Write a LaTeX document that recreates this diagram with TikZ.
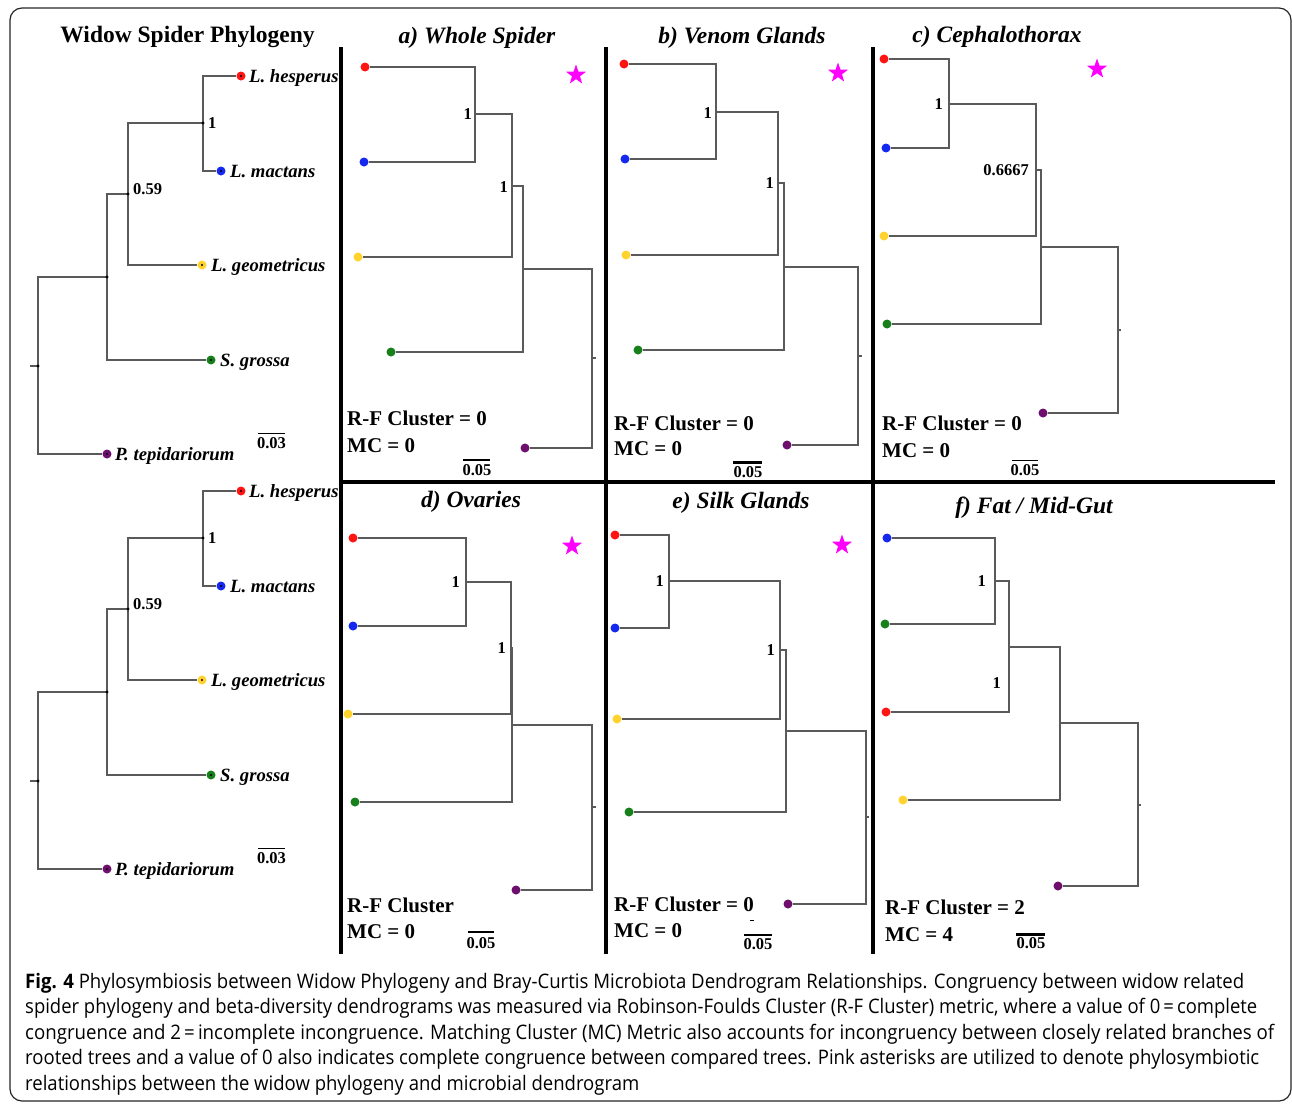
\documentclass[tikz,border=0pt]{standalone}
\usepackage{fontspec}
\usepackage{graphicx}
\setmainfont{Liberation Serif}
\newfontfamily\capfont{Open Sans}
\usetikzlibrary{shapes.geometric}
\definecolor{tgray}{HTML}{5A5A5A}
\definecolor{lred}{HTML}{FF1414}
\definecolor{lblue}{HTML}{1428F0}
\definecolor{lyellow}{HTML}{FFD22E}
\definecolor{lgreen}{HTML}{17801A}
\definecolor{lpurple}{HTML}{6E0F6E}
\definecolor{starpink}{HTML}{FF00FF}
\newcommand\myfs[1]{\fontsize{#1}{#1}\selectfont}
\newlength\capw
\tikzset{
  branch/.style={draw=tgray, line width=1.3pt},
  leafdot/.style={circle, inner sep=0pt, minimum size=9pt, draw=none},
  ttl/.style={font=\myfs{23.5}\bfseries\itshape, anchor=base, inner sep=0pt},
  sp/.style={font=\myfs{18.7}\bfseries\itshape, anchor=base west, inner sep=0pt},
  blab/.style={font=\myfs{16.5}\bfseries, inner sep=0pt},
  stat/.style={font=\myfs{21}\bfseries, anchor=base west, inner sep=0pt},
  sbar/.style={draw=black, line width=#1},
  sepline/.style={draw=black, line width=4pt},
  pstar/.style={star, star points=5, star point ratio=2.5, fill=starpink, draw=none, inner sep=0pt, minimum size=21pt},
  capline/.style={anchor=base west, inner sep=0pt, font=\capfont\myfs{20}}
}
\newcommand\phylo[1]{%
  \coordinate (#1tk) at (30,366);
  \coordinate (#1R) at (38,366);
  \coordinate (#1A) at (107,277);
  \coordinate (#1B) at (128,194);
  \coordinate (#1C) at (203,123);
  \node[leafdot, fill=lred] (#1h) at (241,76) {};
  \node[leafdot, fill=lblue] (#1m) at (221,171) {};
  \node[leafdot, fill=lyellow] (#1g) at (202,265) {};
  \node[leafdot, fill=lgreen] (#1s) at (211,360) {};
  \node[leafdot, fill=lpurple] (#1p) at (107,454) {};
  \draw[branch] (#1tk) -- (#1R);
  \draw[branch] (#1R) |- (#1A);
  \draw[branch] (#1R) |- (#1p);
  \draw[branch] (#1A) |- (#1B);
  \draw[branch] (#1A) |- (#1s);
  \draw[branch] (#1B) |- (#1C);
  \draw[branch] (#1B) |- (#1g);
  \draw[branch] (#1C) |- (#1h);
  \draw[branch] (#1C) |- (#1m);
  \foreach \n in {R,A,B,C}{\fill[black] (#1\n) circle[radius=1.6pt];}
  \foreach \n in {h,m,g,s,p}{\fill[black] (#1\n.center) circle[radius=1.2pt];}
  \node[blab, anchor=west] (#1l1) at (208,123) {1};
  \node[blab, anchor=west] (#1l2) at (133,189) {0.59};
  \node[sp] (#1th) at (249,82) {L. hesperus};
  \node[sp] (#1tm) at (230,177) {L. mactans};
  \node[sp] (#1tg) at (211,271) {L. geometricus};
  \node[sp] (#1ts) at (220,366) {S. grossa};
  \node[sp] (#1tp) at (115,460) {P. tepidariorum};
  \coordinate (#1sa) at (258,433);
  \coordinate (#1sb) at (285,433);
  \draw[sbar=0.9pt] (#1sa) -- (#1sb);
  \node[blab, anchor=base] (#1st) at (271.5,448) {0.03};
}
\begin{document}
\settowidth\capw{\capfont\myfs{20}rooted trees and a value of 0 also indicates complete congruence between compared trees. Pink asterisks are utilized to denote phylosymbiotic}%
\pgfmathsetmacro\capr{1234/\capw}%
\begin{tikzpicture}[x=1pt,y=-1pt]
\fill[white] (0,0) rectangle (1292,1103);
\useasboundingbox (0,0) rectangle (1292,1103);
% frame
\draw[line width=1.2pt, rounded corners=12pt, black!85] (10,8) rectangle (1291,1101);
% separators
\draw[sepline] (341,47) -- (341,954);
\draw[sepline] (606,47) -- (606,954);
\draw[sepline] (873,47) -- (873,954);
\draw[sepline] (341,482) -- (1275,482);
% phylogenies
\node[font=\myfs{23.5}\bfseries, anchor=base, inner sep=0pt] (ttl0) at (187.5,42) {Widow Spider Phylogeny};
\phylo{pu}
\begin{scope}[shift={(0,415)}]
\phylo{pl}
\end{scope}
% ---------- panel a
\node[ttl] (ta) at (477,43) {a) Whole Spider};
\node[leafdot, fill=lred] (aR) at (365,67) {};
\node[leafdot, fill=lblue] (aB) at (364,162) {};
\node[leafdot, fill=lyellow] (aY) at (358,257) {};
\node[leafdot, fill=lgreen] (aG) at (391,352) {};
\node[leafdot, fill=lpurple] (aP) at (525,448) {};
\coordinate (aN1) at (475,114);
\coordinate (aN2) at (512,186);
\coordinate (aN3) at (523,269);
\coordinate (aRt) at (592,358);
\coordinate (aTk) at (596,358);
\draw[branch] (aR) -| (aN1); \draw[branch] (aB) -| (aN1);
\draw[branch] (aN1) -| (aN2); \draw[branch] (aY) -| (aN2);
\draw[branch] (aN2) -| (aN3); \draw[branch] (aG) -| (aN3);
\draw[branch] (aN3) -| (aRt); \draw[branch] (aP) -| (aRt);
\draw[branch] (aRt) -- (aTk);
\node[blab, anchor=east] (aL1) at (472,114) {1};
\node[blab, anchor=east] (aL2) at (508,187) {1};
\node[pstar] (aS) at (576,75) {};
\node[stat] (aRF) at (347,425) {R-F Cluster = 0};
\node[stat] (aMC) at (347,452) {MC = 0};
\coordinate (aSa) at (463,460); \coordinate (aSb) at (490,460);
\draw[sbar=2.5pt] (aSa) -- (aSb);
\node[blab, anchor=base] (aSt) at (477,475) {0.05};
% ---------- panel b
\node[ttl] (tb) at (742,43) {b) Venom Glands};
\node[leafdot, fill=lred] (bR) at (624,64) {};
\node[leafdot, fill=lblue] (bB) at (625,159) {};
\node[leafdot, fill=lyellow] (bY) at (626,255) {};
\node[leafdot, fill=lgreen] (bG) at (638,350) {};
\node[leafdot, fill=lpurple] (bP) at (787,445) {};
\coordinate (bN1) at (716,112);
\coordinate (bN2) at (778,183);
\coordinate (bN3) at (784,267);
\coordinate (bRt) at (858,356);
\coordinate (bTk) at (862,356);
\draw[branch] (bR) -| (bN1); \draw[branch] (bB) -| (bN1);
\draw[branch] (bN1) -| (bN2); \draw[branch] (bY) -| (bN2);
\draw[branch] (bN2) -| (bN3); \draw[branch] (bG) -| (bN3);
\draw[branch] (bN3) -| (bRt); \draw[branch] (bP) -| (bRt);
\draw[branch] (bRt) -- (bTk);
\node[blab, anchor=east] (bL1) at (712,113) {1};
\node[blab, anchor=east] (bL2) at (774,183) {1};
\node[pstar] (bS) at (838,73) {};
\node[stat] (bRF) at (614,430) {R-F Cluster = 0};
\node[stat] (bMC) at (614,455) {MC = 0};
\coordinate (bSa) at (733,462); \coordinate (bSb) at (762,462);
\draw[sbar=3pt] (bSa) -- (bSb);
\node[blab, anchor=base] (bSt) at (748,477) {0.05};
% ---------- panel c
\node[ttl] (tc) at (997,42) {c) Cephalothorax};
\node[leafdot, fill=lred] (cR) at (884,59) {};
\node[leafdot, fill=lblue] (cB) at (886,148) {};
\node[leafdot, fill=lyellow] (cY) at (884,236) {};
\node[leafdot, fill=lgreen] (cG) at (887,324) {};
\node[leafdot, fill=lpurple] (cP) at (1043,413) {};
\coordinate (cN1) at (949,104);
\coordinate (cN2) at (1036,170);
\coordinate (cN3) at (1041,247);
\coordinate (cRt) at (1118,330);
\coordinate (cTk) at (1121,330);
\draw[branch] (cR) -| (cN1); \draw[branch] (cB) -| (cN1);
\draw[branch] (cN1) -| (cN2); \draw[branch] (cY) -| (cN2);
\draw[branch] (cN2) -| (cN3); \draw[branch] (cG) -| (cN3);
\draw[branch] (cN3) -| (cRt); \draw[branch] (cP) -| (cRt);
\draw[branch] (cRt) -- (cTk);
\node[blab, anchor=east] (cL1) at (943,104) {1};
\node[blab, anchor=east] (cL2) at (1029,170) {0.6667};
\node[pstar] (cS) at (1097,69) {};
\node[stat] (cRF) at (882,430) {R-F Cluster = 0};
\node[stat] (cMC) at (882,457) {MC = 0};
\coordinate (cSa) at (1012,460); \coordinate (cSb) at (1038,460);
\draw[sbar=1pt] (cSa) -- (cSb);
\node[blab, anchor=base] (cSt) at (1025,475) {0.05};
% ---------- panel d
\node[ttl] (td) at (471,507) {d) Ovaries};
\node[leafdot, fill=lred] (dR) at (353,538) {};
\node[leafdot, fill=lblue] (dB) at (353,626) {};
\node[leafdot, fill=lyellow] (dY) at (348,714) {};
\node[leafdot, fill=lgreen] (dG) at (355,802) {};
\node[leafdot, fill=lpurple] (dP) at (516,890) {};
\coordinate (dN1) at (466,582);
\coordinate (dN2) at (511,648);
\coordinate (dN3) at (512,725);
\coordinate (dRt) at (592,807);
\coordinate (dTk) at (596,807);
\draw[branch] (dR) -| (dN1); \draw[branch] (dB) -| (dN1);
\draw[branch] (dN1) -| (dN2); \draw[branch] (dY) -| (dN2);
\draw[branch] (dN2) -| (dN3); \draw[branch] (dG) -| (dN3);
\draw[branch] (dN3) -| (dRt); \draw[branch] (dP) -| (dRt);
\draw[branch] (dRt) -- (dTk);
\node[blab, anchor=east] (dL1) at (460,582) {1};
\node[blab, anchor=east] (dL2) at (506,648) {1};
\node[pstar] (dS) at (572,546) {};
\node[stat] (dRF) at (347,912) {R-F Cluster};
\node[stat] (dMC) at (347,938) {MC = 0};
\coordinate (dSa) at (468,932); \coordinate (dSb) at (494,932);
\draw[sbar=2pt] (dSa) -- (dSb);
\node[blab, anchor=base] (dSt) at (481,948) {0.05};
% ---------- panel e
\node[ttl] (te) at (741,508) {e) Silk Glands};
\node[leafdot, fill=lred] (eR) at (615,535) {};
\node[leafdot, fill=lblue] (eB) at (615,628) {};
\node[leafdot, fill=lyellow] (eY) at (617,719) {};
\node[leafdot, fill=lgreen] (eG) at (629,812) {};
\node[leafdot, fill=lpurple] (eP) at (788,904) {};
\coordinate (eN1) at (669,581);
\coordinate (eN2) at (780,650);
\coordinate (eN3) at (786,731);
\coordinate (eRt) at (866,817);
\coordinate (eTk) at (869,817);
\draw[branch] (eR) -| (eN1); \draw[branch] (eB) -| (eN1);
\draw[branch] (eN1) -| (eN2); \draw[branch] (eY) -| (eN2);
\draw[branch] (eN2) -| (eN3); \draw[branch] (eG) -| (eN3);
\draw[branch] (eN3) -| (eRt); \draw[branch] (eP) -| (eRt);
\draw[branch] (eRt) -- (eTk);
\node[blab, anchor=east] (eL1) at (664,581) {1};
\node[blab, anchor=east] (eL2) at (775,650) {1};
\node[pstar] (eS) at (842,545) {};
\node[stat] (eRF) at (614,911) {R-F Cluster = 0};
\node[stat] (eMC) at (614,937) {MC = 0};
\coordinate (eDa) at (750,920); \coordinate (eDb) at (754,920);
\draw[sbar=0.8pt] (eDa) -- (eDb);
\coordinate (eSa) at (744,935); \coordinate (eSb) at (772,935);
\draw[sbar=2.5pt] (eSa) -- (eSb);
\node[blab, anchor=base] (eSt) at (758,949) {0.05};
% ---------- panel f
\node[ttl] (tf) at (1034,513) {f) Fat / Mid-Gut};
\node[leafdot, fill=lblue] (fB) at (887,538) {};
\node[leafdot, fill=lgreen] (fG) at (885,624) {};
\node[leafdot, fill=lred] (fR) at (886,712) {};
\node[leafdot, fill=lyellow] (fY) at (903,800) {};
\node[leafdot, fill=lpurple] (fP) at (1058,886) {};
\coordinate (fN1) at (995,581);
\coordinate (fN2) at (1009,647);
\coordinate (fN3) at (1060,723);
\coordinate (fRt) at (1138,805);
\coordinate (fTk) at (1141,805);
\draw[branch] (fB) -| (fN1); \draw[branch] (fG) -| (fN1);
\draw[branch] (fN1) -| (fN2); \draw[branch] (fR) -| (fN2);
\draw[branch] (fN2) -| (fN3); \draw[branch] (fY) -| (fN3);
\draw[branch] (fN3) -| (fRt); \draw[branch] (fP) -| (fRt);
\draw[branch] (fRt) -- (fTk);
\node[blab, anchor=east] (fL1) at (986,581) {1};
\node[blab, anchor=east] (fL2) at (1001,683) {1};
\node[stat] (fRF) at (885,914) {R-F Cluster = 2};
\node[stat] (fMC) at (885,941) {MC = 4};
\coordinate (fSa) at (1016,934); \coordinate (fSb) at (1045,934);
\draw[sbar=3pt] (fSa) -- (fSb);
\node[blab, anchor=base] (fSt) at (1031,948) {0.05};
% ---------- caption
\node[capline] (cap1) at (25,988) {\resizebox{1219pt}{\height}{\textbf{Fig. 4} Phylosymbiosis between Widow Phylogeny and Bray-Curtis Microbiota Dendrogram Relationships. Congruency between widow related}};
\node[capline] (cap2) at (25,1013.5) {\resizebox{1232pt}{\height}{spider phylogeny and beta-diversity dendrograms was measured via Robinson-Foulds Cluster (R-F Cluster) metric, where a value of 0\,=\,complete}};
\node[capline] (cap3) at (25,1039) {\resizebox{1249pt}{\height}{congruence and 2\,=\,incomplete incongruence. Matching Cluster (MC) Metric also accounts for incongruency between closely related branches of}};
\node[capline] (cap4) at (25,1064.5) {\resizebox{1234pt}{\height}{rooted trees and a value of 0 also indicates complete congruence between compared trees. Pink asterisks are utilized to denote phylosymbiotic}};
\node[capline] (cap5) at (25,1090) {\scalebox{\capr}[1]{relationships between the widow phylogeny and microbial dendrogram}};
\end{tikzpicture}
\end{document}
